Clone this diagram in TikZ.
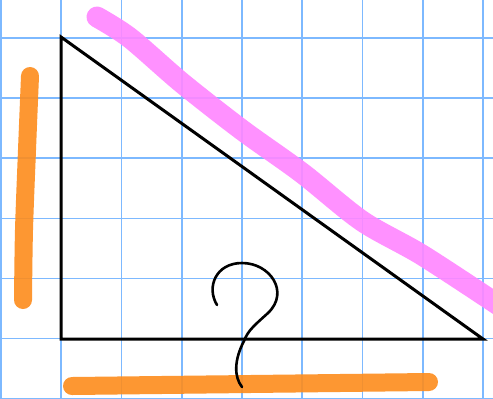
\documentclass[tikz,border=0pt]{standalone}
\usepackage{xcolor}
\usepackage{tikz}
\definecolor{grille}{HTML}{7DB9FF}
\definecolor{orangeT}{HTML}{FD8C1C}
\definecolor{roseT}{HTML}{FF86FF}
\tikzset{
  ligne/.style={draw=grille, line width=0.8pt},
  trait/.style={draw=black, line width=1.5pt, line join=miter},
  surlign/.style={draw=#1, line width=9pt, line cap=round, opacity=0.9},
  crochet/.style={draw=black, line width=1.3pt, line cap=round},
}

\begin{document}
\begin{tikzpicture}[x=0.5pt, y=-0.5pt]
    \useasboundingbox (0,0) rectangle (493,398);
    \fill[white] (0,0) rectangle (493,398);
    % grille
    \foreach \i in {0,...,8} \draw[ligne] ({1+60.25*\i},0) -- ({1+60.25*\i},398);
    \foreach \j in {0,...,6} \draw[ligne] (0,{38+60.1*\j}) -- (493,{38+60.1*\j});
    % triangle
    \coordinate (haut) at (61,37);
    \coordinate (angle) at (61,339);
    \coordinate (droite) at (483,339);
    \draw[trait] (haut) -- (angle) -- (droite) -- cycle;
    % traits de couleur
    \draw[surlign=orangeT] plot[smooth] coordinates {(30,76) (27,150) (24,230) (23,300)};
    \draw[surlign=orangeT] plot[smooth] coordinates {(72,386) (250,384) (429,382)};
    \draw[surlign=roseT, line width=10.5pt] plot[smooth] coordinates {(97,17) (130,38) (182,83) (242,130) (302,173) (362,221) (422,255) (500,306)};
    % point d'interrogation
    \draw[crochet] (217,305) .. controls (206,287) and (216,263) .. (242,263)
      .. controls (270,263) and (290,292) .. (268,313)
      .. controls (256,324) and (248,330) .. (244,341)
      .. controls (234,360) and (234,377) .. (242,387);
  \end{tikzpicture}
\end{document}
